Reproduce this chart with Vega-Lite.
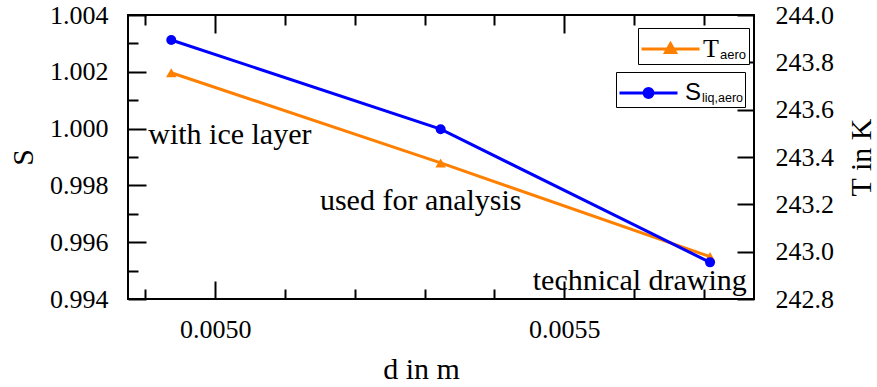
{
  "$schema": "https://vega.github.io/schema/vega-lite/v6.json",
  "width": 626,
  "height": 284,
  "autosize": "none",
  "padding": {"left": 128, "top": 15, "right": 123, "bottom": 88},
  "background": "white",
  "config": {
    "view": {"stroke": "black", "strokeWidth": 2},
    "axis": {
      "grid": false,
      "domain": false,
      "tickColor": "black",
      "tickWidth": 2,
      "labelColor": "black",
      "titleColor": "black"
    },
    "legend": {
      "strokeColor": "black",
      "fillColor": "white",
      "cornerRadius": 0,
      "padding": 2,
      "orient": "none"
    }
  },
  "datasets": {
    "series": [
      {"d": 0.004937, "S": 1.00312, "T": 243.756},
      {"d": 0.005323, "S": 0.99998, "T": 243.375},
      {"d": 0.005709, "S": 0.99529, "T": 242.979}
    ],
    "notes": [
      {"d": 0.004904, "S": 0.999458, "note": "with ice layer"},
      {"d": 0.00515, "S": 0.997134, "note": "used for analysis"},
      {"d": 0.005455, "S": 0.994317, "note": "technical drawing"}
    ]
  },
  "layer": [
    {
      "data": {"name": "series"},
      "mark": {"type": "line", "strokeWidth": 3},
      "encoding": {
        "x": {
          "field": "d", "type": "quantitative",
          "scale": {"domain": [0.004875, 0.005772], "nice": false, "zero": false},
          "axis": {"orient": "top", "labels": false, "title": null, "values": [0.005, 0.0055], "tickSize": 18, "offset": -18}
        },
        "y": {
          "field": "T", "type": "quantitative",
          "scale": {"domain": [242.8, 244.0], "nice": false, "zero": false},
          "axis": {
            "orient": "right", "title": "T in K", "titleAngle": -90, "titleBaseline": "top",
            "values": [242.8, 243.0, 243.2, 243.4, 243.6, 243.8, 244.0],
            "format": ".1f", "tickSize": 17, "offset": -17, "labelPadding": 21, "titlePadding": 13,
            "labelFont": "Times New Roman, serif", "labelFontSize": 26,
            "titleFont": "Times New Roman, serif", "titleFontSize": 30, "titleFontWeight": "normal"
          }
        },
        "color": {
          "datum": "T", "type": "nominal",
          "scale": {"domain": ["T"], "range": ["#ff8000"]},
          "legend": {
            "orient": "none", "legendX": 510, "legendY": 13,
            "title": "aero", "titleOrient": "right", "titleAnchor": "end", "titleBaseline": "bottom",
            "titleFont": "Liberation Sans", "titleFontSize": 13, "titleFontWeight": "normal", "titleColor": "black", "titlePadding": 1,
            "labelFont": "Times New Roman, serif", "labelFontSize": 26, "labelColor": "black", "labelOffset": 25,
            "symbolType": "M-1,0L2.314,0M0.657,-0.3L0.943,0.2L0.371,0.2Z",
            "symbolSize": 1225, "symbolStrokeWidth": 3, "symbolFillColor": "#ff8000", "symbolStrokeColor": "#ff8000"
          }
        }
      }
    },
    {
      "data": {"name": "series"},
      "mark": {"type": "point", "filled": true, "size": 110, "shape": "triangle-up", "color": "#ff8000", "opacity": 1},
      "encoding": {
        "x": {
          "field": "d", "type": "quantitative",
          "axis": {"orient": "top", "labels": false, "title": null, "values": [0.0049, 0.0051, 0.0052, 0.0053, 0.0054, 0.0056, 0.0057], "tickSize": 10, "offset": -10}
        },
        "y": {
          "field": "T", "type": "quantitative",
          "scale": {"domain": [242.8, 244.0], "nice": false, "zero": false},
          "axis": null
        }
      }
    },
    {
      "data": {"name": "series"},
      "mark": {"type": "line", "strokeWidth": 3},
      "encoding": {
        "x": {
          "field": "d", "type": "quantitative",
          "axis": {
            "orient": "bottom", "title": "d in m", "format": ".4f", "values": [0.005, 0.0055],
            "tickSize": 18, "offset": -18, "labelPadding": 17, "titlePadding": 12, "titleX": 293,
            "labelFont": "Times New Roman, serif", "labelFontSize": 26,
            "titleFont": "Times New Roman, serif", "titleFontSize": 30, "titleFontWeight": "normal"
          }
        },
        "y": {
          "field": "S", "type": "quantitative",
          "scale": {"domain": [0.994, 1.004], "nice": false, "zero": false},
          "axis": {
            "orient": "left", "title": "S", "format": ".3f",
            "values": [0.994, 0.996, 0.998, 1.0, 1.002, 1.004],
            "tickSize": 18, "offset": -18, "labelPadding": 20, "titlePadding": 11,
            "labelFont": "Times New Roman, serif", "labelFontSize": 26,
            "titleFont": "Times New Roman, serif", "titleFontSize": 30, "titleFontWeight": "normal"
          }
        },
        "color": {
          "datum": "S", "type": "nominal",
          "scale": {"domain": ["S"], "range": ["#0000ff"]},
          "legend": {
            "orient": "none", "legendX": 488, "legendY": 57,
            "title": "liq,aero", "titleOrient": "right", "titleAnchor": "end", "titleBaseline": "bottom",
            "titleFont": "Liberation Sans", "titleFontSize": 12.5, "titleFontWeight": "normal", "titleColor": "black", "titlePadding": 1,
            "labelFont": "Liberation Sans", "labelFontSize": 24, "labelColor": "black", "labelOffset": 29,
            "symbolType": "M-1,0L2.314,0M0.914,0A0.257,0.257,0,1,1,0.4,0A0.257,0.257,0,1,1,0.914,0Z",
            "symbolSize": 1225, "symbolStrokeWidth": 3, "symbolFillColor": "#0000ff", "symbolStrokeColor": "#0000ff"
          }
        }
      }
    },
    {
      "data": {"name": "series"},
      "mark": {"type": "point", "filled": true, "size": 100, "shape": "circle", "color": "#0000ff", "opacity": 1},
      "encoding": {
        "x": {
          "field": "d", "type": "quantitative",
          "axis": {"orient": "bottom", "labels": false, "title": null, "values": [0.0049, 0.0051, 0.0052, 0.0053, 0.0054, 0.0056, 0.0057], "tickSize": 10, "offset": -10}
        },
        "y": {
          "field": "S", "type": "quantitative",
          "scale": {"domain": [0.994, 1.004], "nice": false, "zero": false},
          "axis": {"orient": "left", "labels": false, "title": null, "values": [0.995, 0.997, 0.999, 1.001, 1.003], "tickSize": 10, "offset": -10}
        }
      }
    },
    {
      "data": {"name": "notes"},
      "mark": {"type": "text", "font": "Liberation Serif", "fontSize": 30, "align": "left", "baseline": "alphabetic", "color": "black"},
      "encoding": {
        "x": {"field": "d", "type": "quantitative", "axis": null},
        "y": {
          "field": "S", "type": "quantitative",
          "scale": {"domain": [0.994, 1.004], "nice": false, "zero": false},
          "axis": null
        },
        "text": {"field": "note", "type": "nominal"}
      }
    }
  ],
  "resolve": {
    "scale": {"y": "independent", "color": "independent"},
    "axis": {"x": "independent", "y": "independent"}
  }
}
